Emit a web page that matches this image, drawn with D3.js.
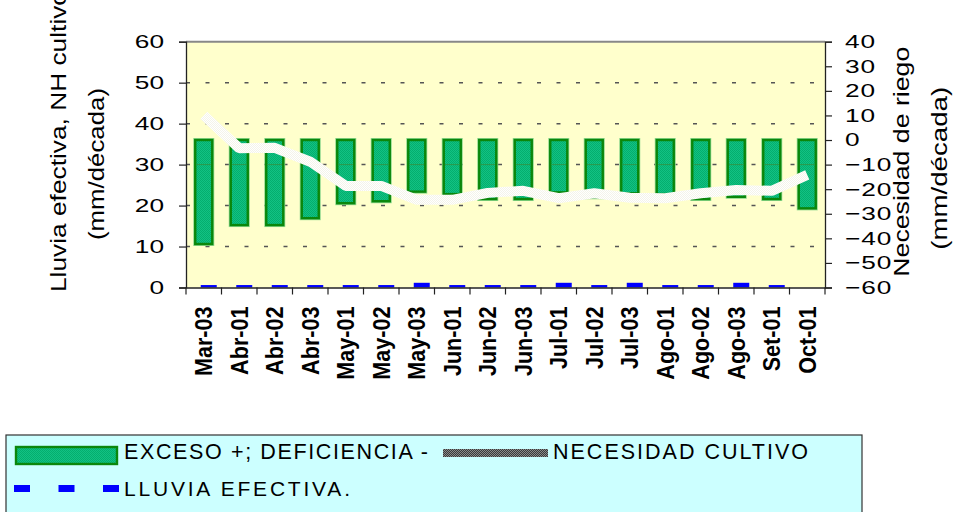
<!DOCTYPE html>
<html><head><meta charset="utf-8">
<script src="https://cdn.jsdelivr.net/npm/d3@7"></script>
<style>
html,body{margin:0;padding:0;background:#fff;}
svg{display:block;font-family:"Liberation Sans",Arial,sans-serif;}
</style></head><body>
<svg id="chart" width="954" height="512"></svg>
<script>
// Décadas del periodo de cultivo
const categories = ["Mar-03","Abr-01","Abr-02","Abr-03","May-01","May-02","May-03","Jun-01","Jun-02","Jun-03",
  "Jul-01","Jul-02","Jul-03","Ago-01","Ago-02","Ago-03","Set-01","Oct-01"];
// Exceso (+) / deficiencia (-), eje derecho (mm/década)
const balance = [-42.3,-34.6,-34.6,-31.8,-25.7,-24.9,-21.0,-22.0,-24.0,-24.0,-21.3,-23.3,-21.7,-22.0,-24.0,-23.1,-24.0,-27.8];
// Necesidad hídrica del cultivo, eje izquierdo (mm/década)
const necesidad = [42.0,34.0,34.1,30.7,24.8,24.8,21.4,21.4,23.1,23.6,21.8,23.0,21.9,21.8,23.0,23.8,23.6,27.5];
// Lluvia efectiva, eje izquierdo (mm/década)
const lluvia = [0.6,0.6,0.6,0.6,0.6,0.6,1.15,0.6,0.6,0.6,1.15,0.6,1.15,0.6,0.6,1.15,0.6,0];
const leftTicks = [0,10,20,30,40,50,60];
const rightTicks = [-60,-50,-40,-30,-20,-10,0,10,20,30,40];
const gridValues = [10,20,30,40,50];

const svg = d3.select("#chart");
const plot = {left:186, right:825, top:41.7, bottom:287.5};

const x = d3.scaleBand().domain(categories).range([plot.left, plot.right]).padding(0);
const yL = d3.scaleLinear().domain([0,60]).range([plot.bottom, plot.top]);
const yR = d3.scaleLinear().domain([-60,40]).range([plot.bottom, plot.top]);
const cx = c => x(c) + x.bandwidth()/2;

// fill textures
const defs = svg.append("defs");
function checker(id, a, b){
  const p = defs.append("pattern").attr("id", id).attr("patternUnits","userSpaceOnUse")
    .attr("width",2).attr("height",2);
  p.append("rect").attr("width",2).attr("height",2).attr("fill",a);
  p.append("rect").attr("width",1).attr("height",1).attr("fill",b);
  p.append("rect").attr("x",1).attr("y",1).attr("width",1).attr("height",1).attr("fill",b);
}
checker("greenPat", "#12C283", "#04AE6E");
checker("linePat", "#FFFFFF", "#F4F4EA");
checker("darkPat", "#3A3A3A", "#8A8A8A");

// plot area
svg.append("rect").attr("x",plot.left).attr("y",plot.top)
  .attr("width",plot.right-plot.left).attr("height",plot.bottom-plot.top)
  .attr("fill","#FFFFCC");

// gridlines
svg.append("g").selectAll("line").data(gridValues).join("line")
  .attr("x1",plot.left).attr("x2",plot.right)
  .attr("y1",d=>yL(d)).attr("y2",d=>yL(d))
  .attr("stroke","#555").attr("stroke-width",1.5)
  .attr("stroke-dasharray","4 15.5");

// exceso / deficiencia bars
const bw = 17;
const bars = svg.append("g");
bars.selectAll("rect.halo").data(categories).join("rect").attr("class","halo")
  .attr("x",c=>cx(c)-bw/2).attr("width",bw)
  .attr("y",(c,i)=>Math.min(yR(0),yR(balance[i])))
  .attr("height",(c,i)=>Math.abs(yR(balance[i])-yR(0)))
  .attr("fill","none").attr("stroke","#8FD88F").attr("stroke-width",4);
bars.selectAll("rect.bar").data(categories).join("rect").attr("class","bar")
  .attr("x",c=>cx(c)-bw/2).attr("width",bw)
  .attr("y",(c,i)=>Math.min(yR(0),yR(balance[i])))
  .attr("height",(c,i)=>Math.abs(yR(balance[i])-yR(0)))
  .attr("fill","url(#greenPat)").attr("stroke","#0B870B").attr("stroke-width",2.4);
bars.selectAll("line").data(categories).join("line")
  .attr("x1",c=>cx(c)-bw/2+1.2).attr("x2",c=>cx(c)+bw/2-1.2)
  .attr("y1",yR(-10)).attr("y2",yR(-10))
  .attr("stroke","#2C9A4C").attr("stroke-width",1);

// lluvia efectiva bars
svg.append("g").selectAll("rect").data(categories).join("rect")
  .attr("x",c=>cx(c)+5-8).attr("width",16)
  .attr("y",(c,i)=>yL(lluvia[i]))
  .attr("height",(c,i)=>yL(0)-yL(lluvia[i]))
  .attr("fill","#0000FF");

// necesidad del cultivo line
const line = d3.line().x((d,i)=>cx(categories[i])).y(d=>yL(d));
svg.append("path").datum(necesidad).attr("d",line)
  .attr("fill","none").attr("stroke","url(#linePat)").attr("stroke-width",10)
  .attr("stroke-linejoin","bevel");

// top border
svg.append("line").attr("x1",plot.left).attr("x2",plot.right)
  .attr("y1",plot.top).attr("y2",plot.top).attr("stroke","#888").attr("stroke-width",2);

// left axis
const sx = 1.42;
const gL = svg.append("g").attr("transform",`translate(${plot.left},0)`)
  .call(d3.axisLeft(yL).tickValues(leftTicks).tickSize(7).tickFormat(d3.format("d")));
gL.select(".domain").attr("stroke","#222").attr("stroke-width",1.3);
gL.selectAll(".tick line").attr("stroke","#222").attr("stroke-width",1.2);
gL.selectAll(".tick text").attr("font-family","Liberation Sans, Arial, sans-serif")
  .attr("font-size",18.5).attr("fill","#000")
  .attr("x",-22/sx).attr("transform",`scale(${sx},1)`);

// right axis
const gR = svg.append("g").attr("transform",`translate(${plot.right},0)`)
  .call(d3.axisRight(yR).tickValues(rightTicks).tickSize(7).tickFormat(d3.format("d")));
gR.select(".domain").attr("stroke","#222").attr("stroke-width",1.3);
gR.selectAll(".tick line").attr("stroke","#222").attr("stroke-width",1.2);
gR.selectAll(".tick text").attr("font-family","Liberation Sans, Arial, sans-serif")
  .attr("font-size",18.5).attr("fill","#000").attr("letter-spacing",0.6)
  .attr("x",20/sx).attr("transform",`scale(${sx},1)`);

// bottom axis
const gB = svg.append("g").attr("transform",`translate(0,${plot.bottom})`)
  .call(d3.axisBottom(x).tickSize(0));
gB.select(".domain").attr("stroke","#222").attr("stroke-width",1.3);
gB.selectAll(".tick text").attr("font-family","Liberation Sans, Arial, sans-serif")
  .attr("font-size",20).attr("font-weight","bold").attr("fill","#000")
  .attr("x",0).attr("y",0).attr("dy","0.36em").attr("text-anchor","end")
  .attr("transform","translate(0,19) rotate(-90) scale(1.08,1.16)");
gB.append("g").selectAll("line").data(categories.concat([null])).join("line")
  .attr("x1",d=>d===null?plot.right:x(d)).attr("x2",d=>d===null?plot.right:x(d))
  .attr("y1",0).attr("y2",7).attr("stroke","#222").attr("stroke-width",1.2);

// axis titles
function vtext(t, px, py, anchor, len){
  svg.append("text").text(t)
    .attr("transform",`translate(${px},${py}) rotate(-90)`)
    .attr("text-anchor",anchor).attr("font-size",22).attr("fill","#000")
    .attr("textLength",len).attr("lengthAdjust","spacingAndGlyphs");
}
vtext("Lluvia efectiva, NH cultivo", 66, 292, "start", 301);
vtext("(mm/década)", 103.5, 164, "middle", 152);
vtext("Necesidad de riego", 909, 161.7, "middle", 230);
vtext("(mm/década)", 947, 168.3, "middle", 163);

// legend
const lg = svg.append("g");
lg.append("rect").attr("x",6).attr("y",435).attr("width",856).attr("height",100)
  .attr("fill","#CCFFFF").attr("stroke","#333").attr("stroke-width",1.2);
lg.append("rect").attr("x",16).attr("y",447).attr("width",101).attr("height",17)
  .attr("fill","url(#greenPat)").attr("stroke","#0B870B").attr("stroke-width",2.4);
lg.append("text").text("EXCESO +; DEFICIENCIA -").attr("x",124).attr("y",458.5)
  .attr("font-size",21.5).attr("textLength",304).attr("lengthAdjust","spacing");
lg.append("rect").attr("x",443).attr("y",449).attr("width",105).attr("height",8)
  .attr("fill","url(#darkPat)");
lg.append("text").text("NECESIDAD CULTIVO").attr("x",553).attr("y",458.5)
  .attr("font-size",21.5).attr("textLength",255).attr("lengthAdjust","spacing");
lg.append("line").attr("x1",14).attr("x2",119).attr("y1",488.5).attr("y2",488.5)
  .attr("stroke","#0000FF").attr("stroke-width",7).attr("stroke-dasharray","16 28.5");
lg.append("text").text("LLUVIA EFECTIVA.").attr("x",124).attr("y",495.5)
  .attr("font-size",21).attr("textLength",226).attr("lengthAdjust","spacing");
</script>
</body></html>
